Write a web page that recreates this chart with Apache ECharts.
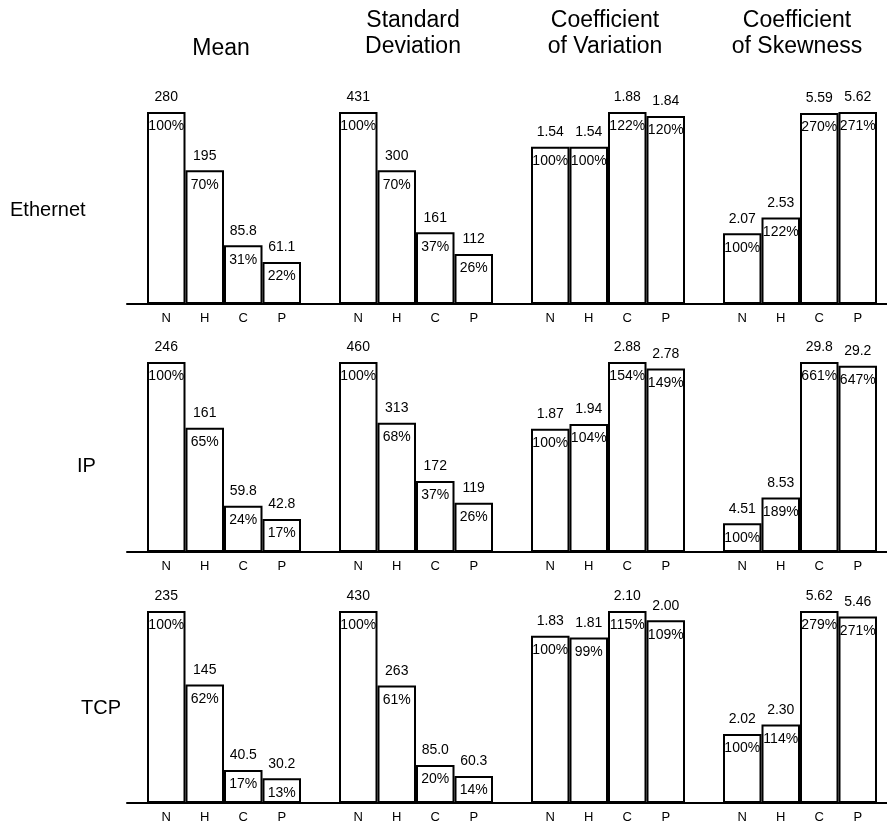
<!DOCTYPE html>
<html>
<head>
<meta charset="utf-8">
<script src="https://cdn.jsdelivr.net/npm/echarts@6/dist/echarts.min.js"></script>
<style>
  html, body { margin: 0; padding: 0; background: #fff; }
  #chart { width: 887px; height: 825px; }
</style>
</head>
<body>
<div id="chart"></div>
<script>
// Categories on every panel's x axis
const categories = ['N', 'H', 'C', 'P'];
const measures = ['Mean', 'Standard\nDeviation', 'Coefficient\nof Variation', 'Coefficient\nof Skewness'];
const protocols = ['Ethernet', 'IP', 'TCP'];

// Ethernet
const ethernetMean = [280, 195, 85.8, 61.1];
const ethernetMeanPct = [100, 70, 31, 22];
const ethernetStd = [431, 300, 161, 112];
const ethernetStdPct = [100, 70, 37, 26];
const ethernetCov = [1.54, 1.54, 1.88, 1.84];
const ethernetCovPct = [100, 100, 122, 120];
const ethernetSkew = [2.07, 2.53, 5.59, 5.62];
const ethernetSkewPct = [100, 122, 270, 271];

// IP
const ipMean = [246, 161, 59.8, 42.8];
const ipMeanPct = [100, 65, 24, 17];
const ipStd = [460, 313, 172, 119];
const ipStdPct = [100, 68, 37, 26];
const ipCov = [1.87, 1.94, 2.88, 2.78];
const ipCovPct = [100, 104, 154, 149];
const ipSkew = [4.51, 8.53, 29.8, 29.2];
const ipSkewPct = [100, 189, 661, 647];

// TCP
const tcpMean = [235, 145, 40.5, 30.2];
const tcpMeanPct = [100, 62, 17, 13];
const tcpStd = [430, 263, 85.0, 60.3];
const tcpStdPct = [100, 61, 20, 14];
const tcpCov = [1.83, 1.81, 2.10, 2.00];
const tcpCovPct = [100, 99, 115, 109];
const tcpSkew = [2.02, 2.30, 5.62, 5.46];
const tcpSkewPct = [100, 114, 279, 271];

const values = [
  [ethernetMean, ethernetStd, ethernetCov, ethernetSkew],
  [ipMean, ipStd, ipCov, ipSkew],
  [tcpMean, tcpStd, tcpCov, tcpSkew]
];
const percents = [
  [ethernetMeanPct, ethernetStdPct, ethernetCovPct, ethernetSkewPct],
  [ipMeanPct, ipStdPct, ipCovPct, ipSkewPct],
  [tcpMeanPct, tcpStdPct, tcpCovPct, tcpSkewPct]
];

// Layout
const FONT = '"Liberation Sans", Arial, Helvetica, sans-serif';
const colLeft = [147, 339, 531, 723];
const panelWidth = 154;
const rowTop = [112, 362, 611];
const rowBottom = [304, 552, 803];
const rowLabel = [
  { left: 10, y: 210 },
  { left: 77, y: 466 },
  { left: 81, y: 708 }
];

const grid = [], xAxis = [], yAxis = [], series = [], title = [];

for (let r = 0; r < 3; r++) {
  for (let c = 0; c < 4; c++) {
    const idx = grid.length;
    const data = values[r][c];
    const pct = percents[r][c];
    grid.push({ left: colLeft[c], top: rowTop[r], width: panelWidth, height: rowBottom[r] - rowTop[r] });
    xAxis.push({
      gridIndex: idx, type: 'category', data: categories,
      axisLine: { show: false }, axisTick: { show: false },
      axisLabel: { color: '#000', fontSize: 13, fontFamily: FONT, margin: 8 }
    });
    yAxis.push({
      gridIndex: idx, type: 'value', min: 0, max: v => v.max,
      show: false, splitLine: { show: false }
    });
    series.push({
      type: 'bar', xAxisIndex: idx, yAxisIndex: idx, data: data,
      barWidth: '100%', barCategoryGap: '0%', silent: true,
      itemStyle: { color: '#fff', borderColor: '#000', borderWidth: 2 },
      label: {
        show: true, position: ['50%', 0], align: 'center', verticalAlign: 'middle',
        formatter: p => '{v|' + p.value.toPrecision(3) + '}\n{p|' + pct[p.dataIndex] + '%}',
        rich: {
          v: { fontSize: 14, lineHeight: 29, color: '#000', fontFamily: FONT },
          p: { fontSize: 14, lineHeight: 29, color: '#000', fontFamily: FONT }
        }
      }
    });
  }
}

// Continuous baseline under each row of panels
for (let r = 0; r < 3; r++) {
  const idx = grid.length;
  grid.push({ left: 127, top: rowBottom[r] - 10, width: 760, height: 10 });
  xAxis.push({
    gridIndex: idx, type: 'value', min: 0, max: 1,
    axisLine: { show: true, lineStyle: { color: '#000', width: 2 } },
    axisTick: { show: false }, axisLabel: { show: false }, splitLine: { show: false }
  });
  yAxis.push({ gridIndex: idx, type: 'value', show: false, splitLine: { show: false } });
}

// Column headings
measures.forEach((m, c) => {
  const twoLines = m.indexOf('\n') >= 0;
  title.push({
    text: m, left: colLeft[c] + panelWidth / 2 - 3, top: twoLines ? 8 : 36,
    textAlign: 'center', padding: 0,
    textStyle: { fontSize: 23, lineHeight: 26, fontWeight: 'normal', color: '#000', fontFamily: FONT }
  });
});

// Row headings
protocols.forEach((p, r) => {
  title.push({
    text: p, left: rowLabel[r].left, top: rowLabel[r].y - 13, padding: 0,
    textStyle: { fontSize: 20, lineHeight: 26, fontWeight: 'normal', color: '#000', fontFamily: FONT }
  });
});

const chart = echarts.init(document.getElementById('chart'), null, { renderer: 'canvas' });
chart.setOption({
  animation: false,
  backgroundColor: '#fff',
  title, grid, xAxis, yAxis, series
});
</script>
</body>
</html>
